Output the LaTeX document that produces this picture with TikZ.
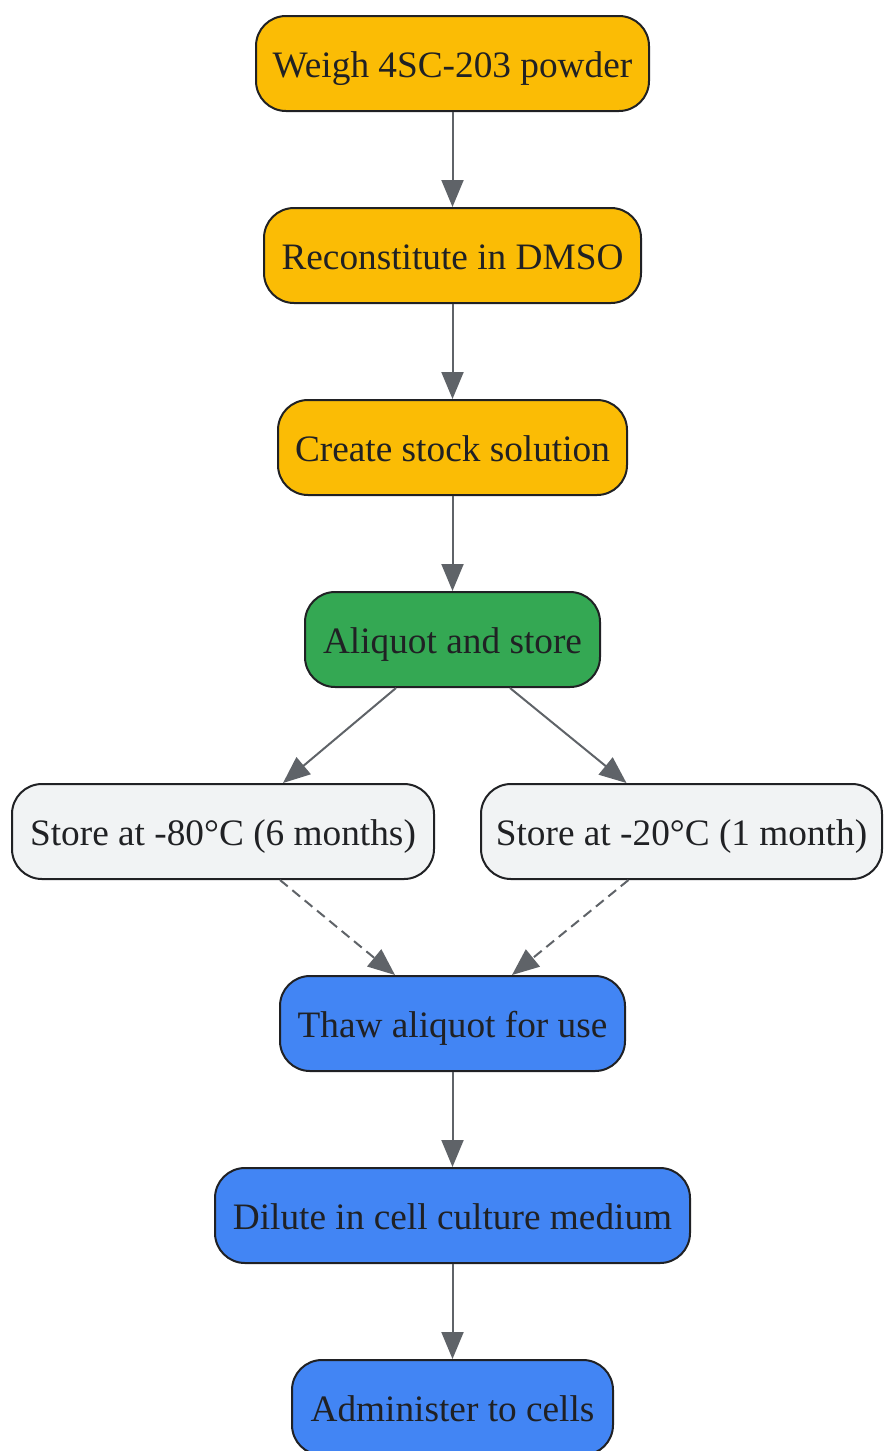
\documentclass[tikz,border=0pt]{standalone}
\usepackage{fontspec}
\setmainfont{Liberation Serif}
\usetikzlibrary{arrows.meta}
\definecolor{cyellow}{HTML}{FBBC05}
\definecolor{cgreen}{HTML}{34A853}
\definecolor{cblue}{HTML}{4285F4}
\definecolor{cgrey}{HTML}{F1F3F4}
\definecolor{cstroke}{HTML}{202124}
\definecolor{carrow}{HTML}{5F6368}
\begin{document}
\begin{tikzpicture}[x=1pt,y=-1pt,
  box/.style={draw=cstroke, line width=2pt, rounded corners=30pt, minimum height=95pt,
    inner sep=0pt, text height=34pt, text depth=7pt, text=cstroke,
    font=\fontsize{37.3}{44}\selectfont, anchor=center},
  yel/.style={box, fill=cyellow},
  grn/.style={box, fill=cgreen},
  blu/.style={box, fill=cblue},
  gry/.style={box, fill=cgrey},
  conn/.style={draw=carrow, line width=2pt, -{Triangle[length=27pt,width=22pt]}},
  dconn/.style={conn, dash pattern=on 10pt off 6pt}]
\useasboundingbox (0,0) rectangle (884,1451);
\node[yel, minimum width=393pt] (n1) at (452.5,63.5) {Weigh 4SC-203 powder};
\node[yel, minimum width=377pt] (n2) at (452.5,255.5) {Reconstitute in DMSO};
\node[yel, minimum width=349pt] (n3) at (452.5,447.5) {Create stock solution};
\node[grn, minimum width=295pt] (n4) at (452.5,639.5) {Aliquot and store};
\node[gry, minimum width=422pt] (n5l) at (223,831.5) {Store at -80°C (6 months)};
\node[gry, minimum width=401pt] (n5r) at (681.5,831.5) {Store at -20°C (1 month)};
\node[blu, minimum width=345pt] (n6) at (452.5,1023.5) {Thaw aliquot for use};
\node[blu, minimum width=475pt] (n7) at (452.5,1215.5) {Dilute in cell culture medium};
\node[blu, minimum width=321pt] (n8) at (452.5,1407.5) {Administer to cells};
\draw[conn] (n1.south) -- (n2.north);
\draw[conn] (n2.south) -- (n3.north);
\draw[conn] (n3.south) -- (n4.north);
\draw[conn] ([xshift=-56.5pt]n4.south) -- ([xshift=60pt]n5l.north);
\draw[conn] ([xshift=57.5pt]n4.south) -- ([xshift=-55pt]n5r.north);
\draw[dconn] ([xshift=57pt]n5l.south) -- ([xshift=-57.5pt]n6.north);
\draw[dconn] ([xshift=-53pt]n5r.south) -- ([xshift=59.5pt]n6.north);
\draw[conn] (n6.south) -- (n7.north);
\draw[conn] (n7.south) -- (n8.north);
\end{tikzpicture}
\end{document}
